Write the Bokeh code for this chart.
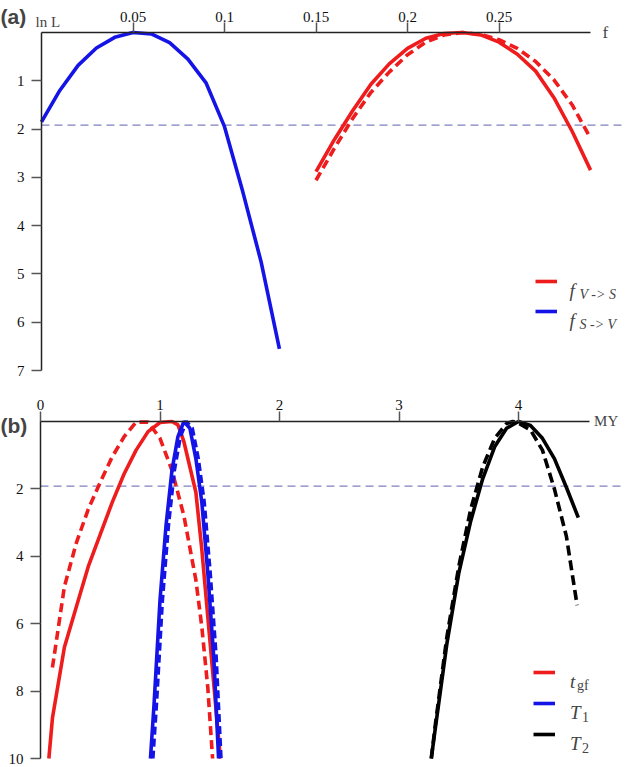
from bokeh.plotting import figure
from bokeh.models import Range1d, FixedTicker, Label, Legend, LegendItem
from bokeh.layouts import column
from bokeh.embed import file_html
from bokeh.resources import INLINE

# ---------------- data: panel (a) ----------------
f_s_to_v = [0.0, 0.01, 0.02, 0.03, 0.04, 0.05, 0.06, 0.07, 0.08, 0.09, 0.10, 0.11, 0.12, 0.13]
lnL_s_to_v = [1.85, 1.2, 0.68, 0.32, 0.1, 0.0, 0.03, 0.21, 0.55, 1.05, 1.95, 3.3, 4.75, 6.55]

f_v_to_s = [0.15, 0.16, 0.17, 0.18, 0.19, 0.20, 0.21, 0.22, 0.23, 0.24, 0.25, 0.26, 0.27, 0.28, 0.29, 0.30]
lnL_v_to_s_solid = [2.88, 2.22, 1.62, 1.07, 0.65, 0.33, 0.12, 0.02, 0.0, 0.05, 0.2, 0.45, 0.8, 1.35, 2.05, 2.85]
lnL_v_to_s_dash = [3.06, 2.4, 1.78, 1.24, 0.82, 0.46, 0.2, 0.05, 0.0, 0.04, 0.15, 0.33, 0.6, 0.98, 1.5, 2.19]

a_x_ticks = [0.05, 0.1, 0.15, 0.2, 0.25]
a_x_tick_labels = ["0.05", "0.1", "0.15", "0.2", "0.25"]
a_y_ticks = [1, 2, 3, 4, 5, 6, 7]

# ---------------- data: panel (b) ----------------
tgf_solid_x = [0.07, 0.1, 0.2, 0.3, 0.4, 0.5, 0.6, 0.7, 0.8, 0.9, 1.0, 1.1, 1.15, 1.2, 1.3, 1.35, 1.4, 1.45, 1.505]
tgf_solid_y = [10.0, 8.8, 6.7, 5.5, 4.3, 3.35, 2.4, 1.55, 0.85, 0.3, 0.03, 0.0, 0.1, 0.6, 2.1, 3.8, 5.8, 7.8, 10.0]
tgf_dash_x = [0.1, 0.2, 0.3, 0.4, 0.5, 0.6, 0.7, 0.8, 0.9, 1.0, 1.1, 1.2, 1.3, 1.35, 1.4, 1.44]
tgf_dash_y = [7.3, 4.9, 3.6, 2.6, 1.8, 1.05, 0.45, 0.02, 0.02, 0.5, 1.45, 2.8, 4.7, 6.1, 7.9, 10.0]

t1_solid_x = [0.92, 0.95, 1.0, 1.05, 1.1, 1.15, 1.2, 1.25, 1.3, 1.35, 1.4, 1.45, 1.49]
t1_solid_y = [10.0, 8.4, 5.3, 3.1, 1.45, 0.45, 0.0, 0.2, 1.1, 2.4, 4.5, 7.0, 10.0]
t1_dash_x = [0.94, 0.97, 1.02, 1.07, 1.12, 1.17, 1.22, 1.27, 1.32, 1.37, 1.42, 1.47, 1.51]
t1_dash_y = [10.0, 8.4, 5.3, 3.1, 1.45, 0.45, 0.0, 0.2, 1.1, 2.4, 4.5, 7.0, 10.0]

t2_solid_x = [3.27, 3.3, 3.4, 3.5, 3.6, 3.7, 3.8, 3.9, 4.0, 4.1, 4.2, 4.3, 4.4, 4.5]
t2_solid_y = [10.0, 9.2, 6.6, 4.5, 2.95, 1.7, 0.75, 0.2, 0.0, 0.12, 0.5, 1.1, 1.95, 2.85]
t2_dash_x = [3.27, 3.3, 3.4, 3.5, 3.6, 3.7, 3.8, 3.9, 3.95, 4.0, 4.1, 4.2, 4.3, 4.4, 4.49]
t2_dash_y = [10.0, 9.1, 6.4, 4.3, 2.6, 1.35, 0.5, 0.06, 0.0, 0.05, 0.25, 0.85, 2.0, 3.4, 5.45]

b_x_ticks = [0, 1, 2, 3, 4]
b_y_ticks = [2, 4, 6, 8, 10]

threshold = 1.92

RED = "#ee1c1c"
BLUE = "#1414e6"
BLACK = "#000000"
SERIF = "Liberation Serif"
LW = 3.6


def style(p, xticks, yticks, xbounds, ybounds):
    p.outline_line_color = None
    p.xgrid.visible = False
    p.ygrid.visible = False
    p.background_fill_color = "white"
    p.border_fill_color = "white"
    for ax in (p.xaxis[0], p.yaxis[0]):
        ax.axis_line_color = "#222222"
        ax.axis_line_width = 1.5
        ax.major_tick_line_color = "#555555"
        ax.major_tick_line_width = 1.5
        ax.major_tick_in = 0
        ax.minor_tick_line_color = None
        ax.major_label_text_font = SERIF
        ax.major_label_text_font_size = "15px"
        ax.major_label_text_color = "#111111"
        ax.fixed_location = 0
    p.xaxis[0].ticker = FixedTicker(ticks=xticks)
    p.yaxis[0].ticker = FixedTicker(ticks=yticks)
    p.xaxis[0].major_tick_out = 10
    p.xaxis[0].major_label_standoff = 1
    p.yaxis[0].major_tick_out = 10
    p.yaxis[0].major_label_standoff = 7
    p.xaxis[0].bounds = xbounds
    p.yaxis[0].bounds = ybounds


def threshold_line(p):
    p.ray(x=[0], y=[threshold], length=0, angle=0, line_color="#7f7fc0",
          line_width=1.2, line_dash="8 5", level="underlay")


# ---------------- panel (a) ----------------
# frame covers the whole canvas; axes are pinned at 0 with fixed_location
pa = figure(width=625, height=395, x_range=Range1d(-0.0224, 0.3191), y_range=Range1d(7.517, -0.6627),
            x_axis_location="above", output_backend="svg", toolbar_location=None,
            min_border_left=0, min_border_right=0, min_border_top=0, min_border_bottom=0)
style(pa, a_x_ticks, a_y_ticks, (0, 0.3), (0, 7))
pa.xaxis[0].major_label_overrides = {t: s for t, s in zip(a_x_ticks, a_x_tick_labels)}
threshold_line(pa)

r_vs = pa.line(f_v_to_s, lnL_v_to_s_solid, line_color=RED, line_width=LW)
pa.line(f_v_to_s, lnL_v_to_s_dash, line_color=RED, line_width=LW, line_dash="9 5")
r_sv = pa.line(f_s_to_v, lnL_s_to_v, line_color=BLUE, line_width=LW)

leg_a = Legend(items=[LegendItem(label=" ", renderers=[r_vs]), LegendItem(label=" ", renderers=[r_sv])],
               location=(535, 74), glyph_width=22, glyph_height=20, label_height=20,
               label_width=1, spacing=10, padding=0, margin=0, label_text_font_size="8px",
               border_line_color=None, background_fill_alpha=0)
pa.add_layout(leg_a)

for ytxt, sub in ((5.16, "V -> S"), (5.78, "S -> V")):
    pa.add_layout(Label(x=0.2885, y=ytxt, text="f", text_font=SERIF, text_font_style="italic",
                        text_font_size="19px", text_baseline="alphabetic", y_offset=-9))
    pa.add_layout(Label(x=0.2885, y=ytxt, text=sub, text_font=SERIF, text_font_style="italic",
                        text_font_size="14px", text_baseline="alphabetic", x_offset=10, y_offset=-13))

pa.add_layout(Label(x=0, y=0, text="ln L", text_font=SERIF, text_font_size="15px",
                    text_baseline="bottom", x_offset=-6, y_offset=3))
pa.add_layout(Label(x=0.3, y=0, text="f", text_font=SERIF, text_font_size="17px",
                    text_baseline="middle", x_offset=12, y_offset=0))
pa.add_layout(Label(x=0, y=0, text="(a)", text_font="Liberation Sans", text_font_style="bold",
                    text_font_size="21px", text_baseline="middle", x_offset=-41, y_offset=16))

# ---------------- panel (b) ----------------
pb = figure(width=625, height=372, x_range=Range1d(-0.3347, 4.895), y_range=Range1d(10.267, -0.7715),
            x_axis_location="above", output_backend="svg", toolbar_location=None,
            min_border_left=0, min_border_right=0, min_border_top=0, min_border_bottom=0)
style(pb, b_x_ticks, b_y_ticks, (0, 4.59), (0, 10))
threshold_line(pb)

r_tgf = pb.line(tgf_solid_x, tgf_solid_y, line_color=RED, line_width=LW)
pb.line(tgf_dash_x, tgf_dash_y, line_color=RED, line_width=LW, line_dash="9 5")
r_t1 = pb.line(t1_solid_x, t1_solid_y, line_color=BLUE, line_width=LW)
pb.line(t1_dash_x, t1_dash_y, line_color=BLUE, line_width=LW, line_dash="8 4")
r_t2 = pb.line(t2_solid_x, t2_solid_y, line_color=BLACK, line_width=LW)
pb.line(t2_dash_x, t2_dash_y, line_color=BLACK, line_width=LW, line_dash="10 5")

leg_b = Legend(items=[LegendItem(label=" ", renderers=[r_tgf]), LegendItem(label=" ", renderers=[r_t1]),
                      LegendItem(label=" ", renderers=[r_t2])],
               location=(533, 23), glyph_width=22, glyph_height=20, label_height=20,
               label_width=1, spacing=11, padding=0, margin=0, label_text_font_size="8px",
               border_line_color=None, background_fill_alpha=0)
pb.add_layout(leg_b)

legend_b_rows = [7.45, 8.37, 9.29]
legend_b_main = ["t", "T", "T"]
legend_b_sub = ["gf", "1", "2"]
for ytxt, main, sub in zip(legend_b_rows, legend_b_main, legend_b_sub):
    pb.add_layout(Label(x=4.43, y=ytxt, text=main, text_font=SERIF, text_font_style="italic",
                        text_font_size="19px", text_baseline="alphabetic", y_offset=-9))
    pb.add_layout(Label(x=4.43, y=ytxt, text=sub, text_font=SERIF,
                        text_font_size="14px", text_baseline="alphabetic",
                        x_offset=(7 if main == "t" else 12), y_offset=-13))

pb.add_layout(Label(x=4.59, y=0, text="MY", text_font=SERIF, text_font_size="15px",
                    text_baseline="middle", x_offset=5, y_offset=0))
pb.add_layout(Label(x=0, y=0, text="(b)", text_font="Liberation Sans", text_font_style="bold",
                    text_font_size="21px", text_baseline="middle", x_offset=-40, y_offset=-4))

layout = column(pa, pb, spacing=0)
open("out.html", "w").write(file_html(layout, INLINE))
